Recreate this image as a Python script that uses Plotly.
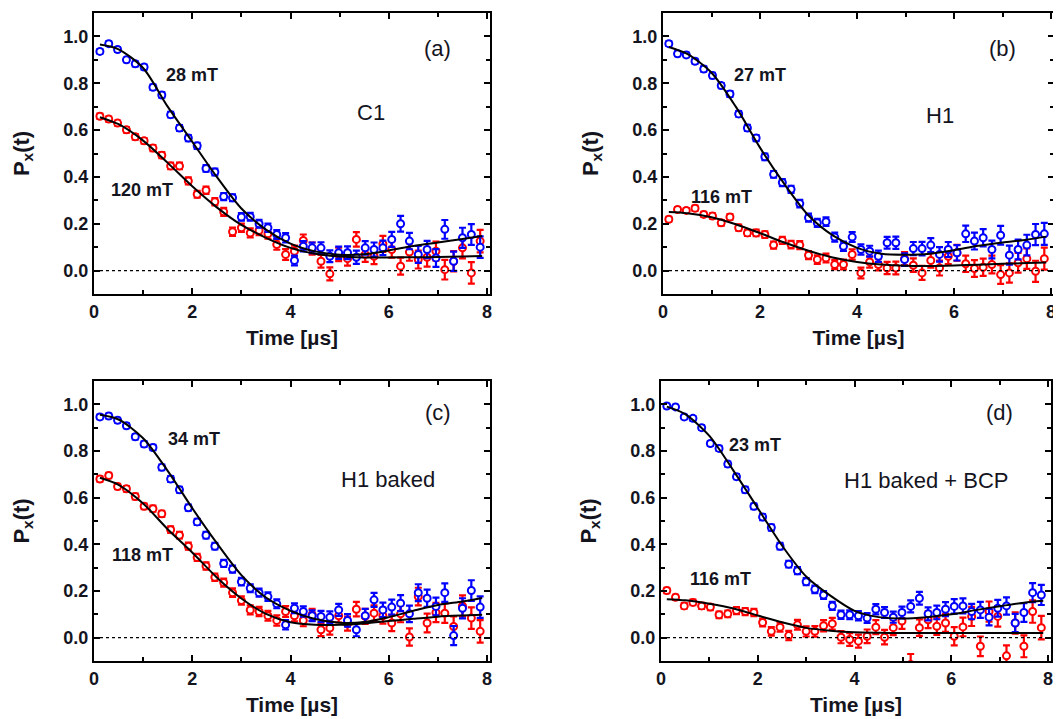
import plotly.graph_objects as go
from plotly.subplots import make_subplots

# ---------------- data ----------------
time_us = [0.12, 0.30, 0.48, 0.66, 0.84, 1.02, 1.20, 1.38, 1.56, 1.74, 1.92, 2.10, 2.28, 2.46, 2.64,
           2.82, 3.00, 3.18, 3.36, 3.54, 3.72, 3.90, 4.08, 4.26, 4.44, 4.62, 4.80, 4.98, 5.16, 5.34,
           5.52, 5.70, 5.88, 6.06, 6.24, 6.42, 6.60, 6.78, 6.96, 7.14, 7.32, 7.50, 7.68, 7.86]

fit_time = [0.12, 0.5, 1.0, 1.5, 2.0, 2.5, 3.0, 3.5, 4.0, 4.5, 5.0, 5.5, 6.0, 6.5, 7.0, 7.5, 7.9]

# panel (a) C1
a_low = [0.936, 0.969, 0.944, 0.900, 0.883, 0.869, 0.783, 0.750, 0.666, 0.609, 0.566, 0.533, 0.436, 0.421, 0.316,
         0.311, 0.229, 0.230, 0.200, 0.183, 0.154, 0.140, 0.043, 0.104, 0.097, 0.097, 0.061, 0.076, 0.076, 0.057,
         0.097, 0.090, 0.097, 0.133, 0.200, 0.126, 0.069, 0.090, 0.054, 0.176, 0.040, 0.140, 0.154, 0.100]
a_high = [0.659, 0.647, 0.630, 0.601, 0.571, 0.554, 0.523, 0.493, 0.447, 0.447, 0.383, 0.326, 0.343, 0.294, 0.251,
          0.166, 0.183, 0.161, 0.171, 0.157, 0.111, 0.069, 0.083, 0.129, 0.094, 0.040, -0.014, 0.069, 0.051, 0.133,
          0.069, 0.061, 0.114, 0.090, 0.019, 0.079, 0.047, 0.057, 0.083, 0.004, 0.040, 0.097, -0.010, 0.126]
a_low_err = [0.010, 0.010, 0.010, 0.010, 0.011, 0.011, 0.011, 0.012, 0.012, 0.012, 0.013, 0.013, 0.014, 0.014, 0.015,
             0.015, 0.016, 0.017, 0.017, 0.018, 0.019, 0.020, 0.021, 0.022, 0.023, 0.024, 0.025, 0.026, 0.027, 0.028,
             0.029, 0.030, 0.031, 0.032, 0.034, 0.035, 0.036, 0.037, 0.038, 0.040, 0.041, 0.043, 0.044, 0.046]
a_high_err = [0.011, 0.011, 0.011, 0.012, 0.012, 0.012, 0.013, 0.013, 0.014, 0.014, 0.015, 0.015, 0.016, 0.016, 0.017,
              0.018, 0.018, 0.019, 0.020, 0.021, 0.022, 0.023, 0.024, 0.025, 0.026, 0.027, 0.028, 0.029, 0.030, 0.031,
              0.032, 0.033, 0.034, 0.035, 0.036, 0.037, 0.038, 0.040, 0.041, 0.042, 0.043, 0.045, 0.046, 0.048]
a_low_fit = [0.965, 0.945, 0.865, 0.700, 0.550, 0.400, 0.265, 0.175, 0.115, 0.082, 0.068, 0.070, 0.086, 0.105, 0.120, 0.135, 0.148]
a_high_fit = [0.655, 0.625, 0.555, 0.460, 0.360, 0.270, 0.195, 0.140, 0.097, 0.072, 0.060, 0.056, 0.056, 0.057, 0.058, 0.060, 0.062]

# panel (b) H1
b_low = [0.969, 0.926, 0.921, 0.894, 0.861, 0.833, 0.790, 0.754, 0.669, 0.609, 0.566, 0.486, 0.411, 0.376, 0.347,
         0.286, 0.226, 0.204, 0.209, 0.143, 0.104, 0.143, 0.090, 0.083, 0.061, 0.119, 0.119, 0.047, 0.094, 0.094,
         0.109, 0.069, 0.090, 0.076, 0.157, 0.126, 0.140, 0.090, 0.151, 0.066, 0.090, 0.109, 0.154, 0.157]
b_high = [0.219, 0.261, 0.257, 0.266, 0.240, 0.233, 0.204, 0.229, 0.183, 0.161, 0.161, 0.154, 0.109, 0.129, 0.111,
          0.109, 0.066, 0.047, 0.054, 0.026, 0.026, 0.069, -0.010, 0.037, 0.026, 0.011, 0.011, 0.051, 0.023, -0.010,
          0.043, 0.011, 0.061, 0.076, 0.029, 0.009, 0.014, 0.026, -0.017, -0.010, 0.033, 0.051, -0.003, 0.051]
b_low_err = [0.010, 0.010, 0.010, 0.010, 0.011, 0.011, 0.011, 0.012, 0.012, 0.013, 0.013, 0.014, 0.014, 0.015, 0.015,
             0.016, 0.017, 0.017, 0.018, 0.019, 0.020, 0.021, 0.022, 0.023, 0.024, 0.025, 0.026, 0.027, 0.028, 0.029,
             0.030, 0.031, 0.032, 0.033, 0.035, 0.036, 0.037, 0.038, 0.040, 0.041, 0.042, 0.044, 0.045, 0.047]
b_high_err = [0.010, 0.010, 0.010, 0.011, 0.011, 0.011, 0.012, 0.012, 0.013, 0.013, 0.014, 0.014, 0.015, 0.015, 0.016,
              0.017, 0.017, 0.018, 0.019, 0.020, 0.021, 0.022, 0.023, 0.024, 0.025, 0.026, 0.027, 0.028, 0.029, 0.030,
              0.031, 0.032, 0.033, 0.034, 0.035, 0.036, 0.037, 0.038, 0.040, 0.041, 0.042, 0.044, 0.045, 0.047]
b_low_fit = [0.955, 0.925, 0.845, 0.700, 0.525, 0.370, 0.235, 0.150, 0.097, 0.072, 0.068, 0.072, 0.087, 0.106, 0.120, 0.132, 0.145]
b_high_fit = [0.250, 0.245, 0.228, 0.198, 0.160, 0.120, 0.085, 0.056, 0.037, 0.026, 0.021, 0.020, 0.022, 0.025, 0.029, 0.032, 0.035]

# panel (c) H1 baked
c_low = [0.946, 0.950, 0.932, 0.908, 0.861, 0.830, 0.815, 0.730, 0.680, 0.634, 0.557, 0.496, 0.439, 0.392, 0.318,
         0.294, 0.240, 0.212, 0.193, 0.176, 0.145, 0.055, 0.126, 0.112, 0.094, 0.091, 0.088, 0.119, 0.074, 0.034,
         0.094, 0.162, 0.119, 0.131, 0.148, 0.102, 0.193, 0.169, 0.134, 0.193, 0.009, 0.126, 0.202, 0.131]
c_high = [0.680, 0.695, 0.648, 0.638, 0.605, 0.563, 0.553, 0.531, 0.463, 0.439, 0.392, 0.344, 0.307, 0.259, 0.236,
          0.193, 0.159, 0.119, 0.112, 0.094, 0.074, 0.112, 0.094, 0.074, 0.098, 0.034, 0.041, 0.094, 0.060, 0.122,
          0.091, 0.105, 0.094, 0.063, 0.102, 0.003, 0.176, 0.063, 0.108, 0.105, 0.048, 0.136, 0.084, 0.027]
c_low_err = [0.010, 0.010, 0.010, 0.010, 0.011, 0.011, 0.011, 0.012, 0.012, 0.012, 0.013, 0.013, 0.014, 0.014, 0.015,
             0.015, 0.016, 0.017, 0.017, 0.018, 0.019, 0.020, 0.021, 0.022, 0.023, 0.024, 0.025, 0.026, 0.027, 0.028,
             0.029, 0.030, 0.031, 0.032, 0.034, 0.035, 0.036, 0.037, 0.038, 0.040, 0.041, 0.043, 0.044, 0.046]
c_high_err = [0.011, 0.011, 0.011, 0.012, 0.012, 0.012, 0.013, 0.013, 0.014, 0.014, 0.015, 0.015, 0.016, 0.016, 0.017,
              0.018, 0.018, 0.019, 0.020, 0.021, 0.022, 0.023, 0.024, 0.025, 0.026, 0.027, 0.028, 0.029, 0.030, 0.031,
              0.032, 0.033, 0.034, 0.035, 0.036, 0.037, 0.038, 0.040, 0.041, 0.042, 0.043, 0.045, 0.046, 0.048]
c_low_fit = [0.955, 0.935, 0.855, 0.715, 0.555, 0.405, 0.268, 0.172, 0.115, 0.080, 0.064, 0.067, 0.088, 0.115, 0.140, 0.155, 0.170]
c_high_fit = [0.685, 0.655, 0.575, 0.465, 0.365, 0.258, 0.168, 0.102, 0.066, 0.055, 0.055, 0.061, 0.071, 0.081, 0.090, 0.095, 0.098]

# panel (d) H1 baked + BCP
d_low = [0.993, 0.989, 0.946, 0.940, 0.900, 0.832, 0.811, 0.744, 0.690, 0.634, 0.563, 0.517, 0.472, 0.392, 0.315,
         0.287, 0.240, 0.207, 0.183, 0.136, 0.098, 0.098, 0.094, 0.084, 0.122, 0.108, 0.088, 0.108, 0.134, 0.169,
         0.102, 0.108, 0.122, 0.134, 0.136, 0.112, 0.119, 0.088, 0.126, 0.136, 0.063, 0.108, 0.193, 0.183]
d_high = [0.202, 0.173, 0.136, 0.151, 0.136, 0.131, 0.098, 0.102, 0.116, 0.112, 0.108, 0.065, 0.027, 0.045, 0.009,
          0.055, 0.027, 0.027, 0.051, 0.060, 0.002, -0.008, -0.015, 0.006, 0.045, 0.002, 0.043, 0.071, -0.115, 0.043,
          0.077, 0.049, 0.063, 0.006, 0.046, 0.091, -0.037, 0.112, 0.091, -0.078, 0.063, -0.037, 0.112, 0.043]
d_low_err = [0.009, 0.009, 0.009, 0.010, 0.010, 0.010, 0.011, 0.011, 0.011, 0.012, 0.012, 0.013, 0.013, 0.014, 0.014,
             0.015, 0.015, 0.016, 0.017, 0.017, 0.018, 0.019, 0.020, 0.021, 0.022, 0.023, 0.024, 0.025, 0.026, 0.027,
             0.028, 0.029, 0.030, 0.031, 0.032, 0.033, 0.034, 0.035, 0.036, 0.037, 0.039, 0.040, 0.041, 0.043]
d_high_err = [0.011, 0.011, 0.012, 0.012, 0.013, 0.013, 0.014, 0.014, 0.015, 0.015, 0.016, 0.017, 0.018, 0.019, 0.020,
              0.021, 0.022, 0.023, 0.024, 0.025, 0.026, 0.027, 0.028, 0.029, 0.030, 0.031, 0.032, 0.033, 0.045, 0.035,
              0.036, 0.037, 0.038, 0.039, 0.040, 0.041, 0.042, 0.043, 0.044, 0.045, 0.046, 0.047, 0.048, 0.050]
d_low_fit = [0.990, 0.958, 0.865, 0.715, 0.555, 0.395, 0.262, 0.180, 0.115, 0.088, 0.082, 0.088, 0.100, 0.118, 0.135, 0.150, 0.158]
d_high_fit = [0.165, 0.160, 0.145, 0.125, 0.095, 0.066, 0.042, 0.030, 0.023, 0.021, 0.020, 0.020, 0.020, 0.020, 0.020, 0.020, 0.020]

panels = [
    (1, 1, a_low, a_low_err, a_low_fit, a_high, a_high_err, a_high_fit),
    (1, 2, b_low, b_low_err, b_low_fit, b_high, b_high_err, b_high_fit),
    (2, 1, c_low, c_low_err, c_low_fit, c_high, c_high_err, c_high_fit),
    (2, 2, d_low, d_low_err, d_low_fit, d_high, d_high_err, d_high_fit),
]

BLUE = "#0000FF"
RED = "#FF0000"
FONT = "Liberation Sans, Arial, sans-serif"
TXT = "#14141e"

fig = make_subplots(rows=2, cols=2)

for r, c, lo, lo_e, lo_f, hi, hi_e, hi_f in panels:
    for y, e, col in ((hi, hi_e, RED), (lo, lo_e, BLUE)):
        fig.add_trace(go.Scatter(
            x=time_us, y=y, mode="markers",
            error_y=dict(type="data", array=e, color=col, thickness=2.2, width=3.5),
            marker=dict(symbol="circle", size=7, color="white", line=dict(color=col, width=2)),
            showlegend=False, cliponaxis=True), row=r, col=c)
    for f in (hi_f, lo_f):
        fig.add_trace(go.Scatter(
            x=fit_time, y=f, mode="lines", line=dict(color="black", width=2, shape="spline", smoothing=0.8),
            showlegend=False), row=r, col=c)
    fig.add_hline(y=0, line=dict(color="black", width=1.4, dash="dot"), row=r, col=c)

# layout domains (pixel positions of the frames)
W, H = 1061, 719
doms = {
    1: ((86, 482), (5, 286)),
    2: ((655, 1046), (5, 286)),
    3: ((86, 482), (373, 653)),
    4: ((653, 1043), (373, 653)),
}
for i, ((x0, x1), (y0, y1)) in doms.items():
    sfx = "" if i == 1 else str(i)
    fig.layout["xaxis" + sfx].domain = [x0 / W, x1 / W]
    fig.layout["yaxis" + sfx].domain = [1 - y1 / H, 1 - y0 / H]

axis_common = dict(
    showline=True, linecolor="black", linewidth=2, mirror="allticks",
    ticks="inside", ticklen=6, tickwidth=1.5, tickcolor="black",
    showgrid=False, zeroline=False, automargin=False,
    tickfont=dict(family=FONT, size=18, color=TXT, weight="bold"),
)
fig.update_xaxes(range=[0, 8.06], dtick=2, tick0=0,
                 minor=dict(ticks="inside", dtick=1, ticklen=4, tickwidth=1.5, tickcolor="black"),
                 title=dict(text="Time [µs]", font=dict(family=FONT, size=21, color=TXT, weight="bold"), standoff=10),
                 **axis_common)
fig.update_yaxes(range=[-0.1, 1.1], dtick=0.2, tick0=0, tickformat=".1f",
                 minor=dict(ticks="inside", dtick=0.1, ticklen=4, tickwidth=1.5, tickcolor="black"),
                 title=dict(text="P<sub>x</sub>(t)", font=dict(family=FONT, size=22, color=TXT, weight="bold"), standoff=28),
                 **axis_common)

def ann(xref, yref, x, y, text, size, bold):
    fig.add_annotation(x=x, y=y, xref=xref, yref=yref, text=text, showarrow=False,
                       font=dict(family=FONT, size=size, color=TXT, weight="bold" if bold else "normal"))

ann("x", "y", 7.0, 0.947, "(a)", 22, False)
ann("x", "y", 2.0, 0.834, "28 mT", 18, True)
ann("x", "y", 5.64, 0.676, "C1", 22, False)
ann("x", "y", 0.98, 0.346, "120 mT", 18, True)

ann("x2", "y2", 7.0, 0.947, "(b)", 22, False)
ann("x2", "y2", 1.99, 0.834, "27 mT", 18, True)
ann("x2", "y2", 5.72, 0.663, "H1", 22, False)
ann("x2", "y2", 1.21, 0.316, "116 mT", 18, True)

ann("x3", "y3", 7.0, 0.964, "(c)", 22, False)
ann("x3", "y3", 2.04, 0.853, "34 mT", 18, True)
ann("x3", "y3", 5.99, 0.678, "H1 baked", 22, False)
ann("x3", "y3", 0.98, 0.354, "118 mT", 18, True)

ann("x4", "y4", 6.99, 0.964, "(d)", 22, False)
ann("x4", "y4", 1.94, 0.827, "23 mT", 18, True)
ann("x4", "y4", 5.48, 0.674, "H1 baked + BCP", 22, False)
ann("x4", "y4", 1.22, 0.25, "116 mT", 18, True)

fig.update_layout(template="none", width=W, height=H, margin=dict(l=0, r=0, t=0, b=0),
                  paper_bgcolor="white", plot_bgcolor="white", showlegend=False)

fig.write_html("out.html")
